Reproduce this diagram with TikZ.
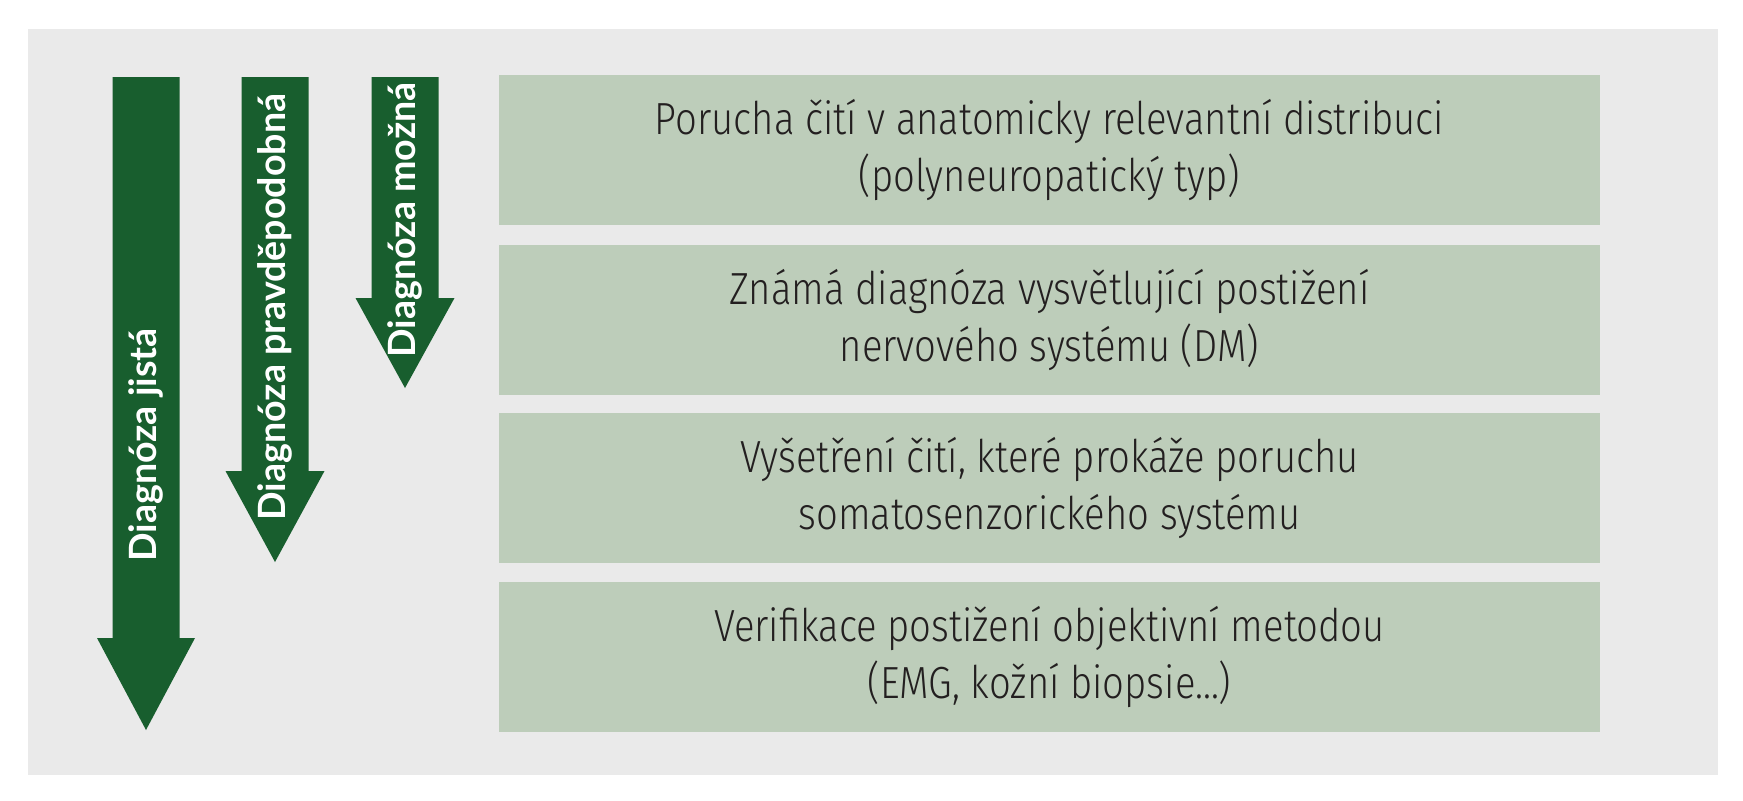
\documentclass[tikz,border=0pt]{standalone}
\usepackage{fontspec}
\newfontfamily\boxfont[FakeStretch=0.85]{Fira Sans Light}
\newfontfamily\arrowfont{Lato}
\definecolor{bggray}{HTML}{EAEAEA}
\definecolor{boxgreen}{HTML}{BDCDBA}
\definecolor{arrowgreen}{HTML}{185E2E}
\definecolor{textgray}{HTML}{231F20}

\begin{document}
\begin{tikzpicture}[x=0.5pt,y=-0.5pt,
    box/.style={fill=boxgreen, minimum width=550.5pt, minimum height=75pt,
        inner sep=0pt, align=center, text=textgray,
        font=\boxfont\fontsize{22.5}{28.5}\selectfont},
    arrowlabel/.style={rotate=90, inner sep=0pt, text=white,
        font=\arrowfont\bfseries\fontsize{18.8}{22}\selectfont}]
    \useasboundingbox (0,0) rectangle (1743,800);
    \fill[white] (0,0) rectangle (1743,800);
    \fill[bggray] (28,29) rectangle (1718,775);

    \node[box] (porucha) at (1049.5,150) {Porucha čití v anatomicky relevantní distribuci\\(polyneuropatický typ)};
    \node[box] (znama) at (1049.5,320) {Známá diagnóza vysvětlující postižení\\nervového systému (DM)};
    \node[box] (vysetreni) at (1049.5,487.5) {Vyšetření čití, které prokáže poruchu\\somatosenzorického systému};
    \node[box] (verifikace) at (1049.5,657) {Verifikace postižení objektivní metodou\\(EMG, kožní biopsie...)};

    \fill[arrowgreen] (112.5,77) -- (179.5,77) -- (179.5,638) -- (195,638)
        -- (146,730) -- (97,638) -- (112.5,638) -- cycle;
    \fill[arrowgreen] (241.5,77) -- (308.5,77) -- (308.5,471) -- (324.5,471)
        -- (275,562) -- (225.5,471) -- (241.5,471) -- cycle;
    \fill[arrowgreen] (371.5,77) -- (438.5,77) -- (438.5,298) -- (454.5,298)
        -- (405,388) -- (355.5,298) -- (371.5,298) -- cycle;

    \node[arrowlabel] (jista) at (146,445) {Diagnóza jistá};
    \node[arrowlabel] (pravdepodobna) at (275,307) {Diagnóza pravděpodobná};
    \node[arrowlabel] (mozna) at (405,220) {Diagnóza možná};
\end{tikzpicture}
\end{document}
